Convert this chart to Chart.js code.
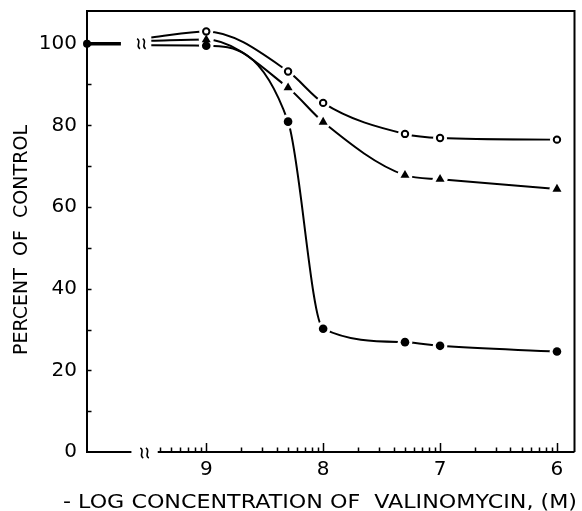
<!DOCTYPE html>
<html>
<head>
<meta charset="utf-8">
<script src="https://cdn.jsdelivr.net/npm/chart.js@4.4.1/dist/chart.umd.min.js"></script>
<style>
body { margin: 0; background: #fff; }
#wrap { width: 582px; height: 511px; }
</style>
</head>
<body>
<div id="wrap"><canvas id="grafico" width="582" height="511"></canvas></div>
<script>
// x is log10 of the molar concentration (axis shows -log)
var logConc = [-9, -8.3, -8, -7.3, -7, -6];
var abertos = [103, 93.2, 85.5, 77.9, 76.9, 76.5];      // open circles
var triangulos = [101, 89.2, 80.8, 67.8, 66.8, 64.4];   // triangles
var cheios = [99.5, 80.9, 30.2, 26.9, 26.0, 24.6];      // filled circles

// curves come out of the axis break at about these levels
var inicioQuebra = -9.47;
var inicioNiveis = [101.5, 100.7, 99.6];

// control value, drawn on the y axis before the break
var controleX = [-10.02, -9.73];
var controleY = [100, 100];

var xTickLabels = [9, 8, 7, 6];
var yTickLabels = [0, 20, 40, 60, 80, 100];

var xMin = -10.02, xMax = -5.85, yMax = 108;
var quebraEixo = [-9.64, -9.415];   // gap in the x axis line
var quebraLinha = -9.555;           // break mark on the 100% line

function pontos(ys, inicio) {
    var p = [{x: inicioQuebra, y: inicio}];
    for (var i = 0; i < logConc.length; i++) {
        p.push({x: logConc[i], y: ys[i]});
    }
    return p;
}

// first dataset in the list is drawn on top, so: markers, white halos, lines
var marcas = [], halos = [], linhas = [];
function serie(ys, inicio, estilo, raio, fundo, borda, halo) {
    var dados = pontos(ys, inicio);
    var pts = dados.slice(1);
    linhas.push({data: dados, borderColor: '#000', borderWidth: 2, pointRadius: 0,
                 cubicInterpolationMode: 'monotone', fill: false});
    halos.push({data: pts, showLine: false, pointStyle: 'circle', pointRadius: halo,
                pointBackgroundColor: '#fff', pointBorderColor: '#fff', pointBorderWidth: 0});
    marcas.push({data: pts, showLine: false, pointStyle: estilo, pointRadius: raio,
                 pointBackgroundColor: fundo, pointBorderColor: '#000', pointBorderWidth: borda});
}
serie(abertos, inicioNiveis[0], 'circle', 3.2, '#fff', 2, 7);
serie(triangulos, inicioNiveis[1], 'triangle', 5.2, '#000', 0, 7.5);
serie(cheios, inicioNiveis[2], 'circle', 4.3, '#000', 0, 7.3);

var controle = {
    data: controleX.map(function(v, i){ return {x: v, y: controleY[i]}; }),
    borderColor: '#000', borderWidth: 3.5, clip: false,
    pointRadius: [4, 0], pointBackgroundColor: '#000', pointBorderWidth: 0
};

var datasets = [controle].concat(marcas, halos, linhas);

function ondinha(ctx, cx, cy) {
    // little wavy break mark
    for (var k = -1; k <= 1; k += 2) {
        var x = cx + k * 2.8;
        ctx.beginPath();
        ctx.moveTo(x - 1.5, cy - 5);
        ctx.bezierCurveTo(x + 3.5, cy - 2.5, x - 3.5, cy + 2.5, x + 1.5, cy + 5);
        ctx.stroke();
    }
}

// text stretched to a given width (the original lettering is wide)
function textoLargo(ctx, texto, x, y, largura) {
    var w0 = ctx.measureText(texto).width;
    ctx.save();
    ctx.translate(x, y);
    ctx.scale(largura / w0, 1);
    ctx.fillText(texto, 0, 0);
    ctx.restore();
}

var extras = {
    id: 'extras',
    afterDraw: function(chart) {
        var ctx = chart.ctx, a = chart.chartArea;
        var sx = chart.scales.x, sy = chart.scales.y;
        ctx.save();
        ctx.strokeStyle = '#000';
        ctx.lineWidth = 2;

        // top and right frame
        ctx.beginPath();
        ctx.moveTo(a.left, a.top);
        ctx.lineTo(a.right, a.top);
        ctx.lineTo(a.right, a.bottom);
        ctx.stroke();

        // broken x axis
        var yb = a.bottom;
        ctx.beginPath();
        ctx.moveTo(a.left, yb);
        ctx.lineTo(sx.getPixelForValue(quebraEixo[0]), yb);
        ctx.moveTo(sx.getPixelForValue(quebraEixo[1]), yb);
        ctx.lineTo(a.right, yb);
        ctx.stroke();

        ctx.lineWidth = 1.6;
        ondinha(ctx, sx.getPixelForValue((quebraEixo[0] + quebraEixo[1]) / 2), yb + 1);
        ondinha(ctx, sx.getPixelForValue(quebraLinha), sy.getPixelForValue(100));

        // log minor / major ticks, pointing inwards
        ctx.lineWidth = 1.5;
        ctx.beginPath();
        for (var n = -10; n <= -6; n++) {
            for (var k = 1; k <= 9; k++) {
                var v = n + Math.log10(k);
                if (v < quebraEixo[1] || v > xMax) continue;
                var px = Math.round(sx.getPixelForValue(v)) + 0.5;
                var len = (k === 1) ? 9 : 4.5;
                ctx.moveTo(px, yb);
                ctx.lineTo(px, yb - len);
            }
        }
        for (var t = 10; t <= 100; t += 10) {
            var py = Math.round(sy.getPixelForValue(t)) + 0.5;
            ctx.moveTo(a.left, py);
            ctx.lineTo(a.left + 4.5, py);
        }
        ctx.stroke();

        // axis titles
        ctx.fillStyle = '#000';
        ctx.font = '20px "DejaVu Sans"';
        ctx.textBaseline = 'alphabetic';
        ctx.textAlign = 'left';
        textoLargo(ctx, '- LOG CONCENTRATION OF  VALINOMYCIN, (M)', 63, 508, 514);

        ctx.save();
        ctx.translate(27, 355);
        ctx.rotate(-Math.PI / 2);
        textoLargo(ctx, 'PERCENT  OF  CONTROL', 0, 0, 230);
        ctx.restore();
        ctx.restore();
    }
};

var ctx = document.getElementById('grafico');
var grafico = new Chart(ctx, {
    type: 'line',
    data: { datasets: datasets },
    options: {
        responsive: false,
        animation: false,
        events: [],
        layout: { padding: { top: 11, right: 3, left: 0, bottom: 0 } },
        plugins: { legend: { display: false }, tooltip: { enabled: false } },
        scales: {
            x: {
                type: 'linear',
                min: xMin,
                max: xMax,
                grid: { display: false, drawTicks: false },
                border: { display: false },
                afterBuildTicks: function(scale) {
                    scale.ticks = xTickLabels.map(function(v){ return {value: -v}; });
                },
                afterFit: function(scale) {
                    scale.height = 59;
                    scale.paddingLeft = 0;
                    scale.paddingRight = 0;
                },
                ticks: {
                    color: '#000',
                    padding: 6,
                    maxRotation: 0,
                    autoSkip: false,
                    font: { family: 'DejaVu Sans', size: 20 },
                    callback: function(value) { return String(Math.round(-value)); }
                }
            },
            y: {
                min: 0,
                max: yMax,
                grid: { display: false, drawTicks: false },
                border: { display: true, color: '#000', width: 2 },
                afterBuildTicks: function(scale) {
                    scale.ticks = yTickLabels.map(function(v){ return {value: v}; });
                },
                afterFit: function(scale) {
                    scale.width = 87;
                    scale.paddingTop = 0;
                    scale.paddingBottom = 0;
                },
                ticks: {
                    color: '#000',
                    padding: 10,
                    autoSkip: false,
                    font: { family: 'DejaVu Sans', size: 20 },
                    callback: function(value) { return String(value); }
                }
            }
        }
    },
    plugins: [extras]
});
</script>
</body>
</html>
